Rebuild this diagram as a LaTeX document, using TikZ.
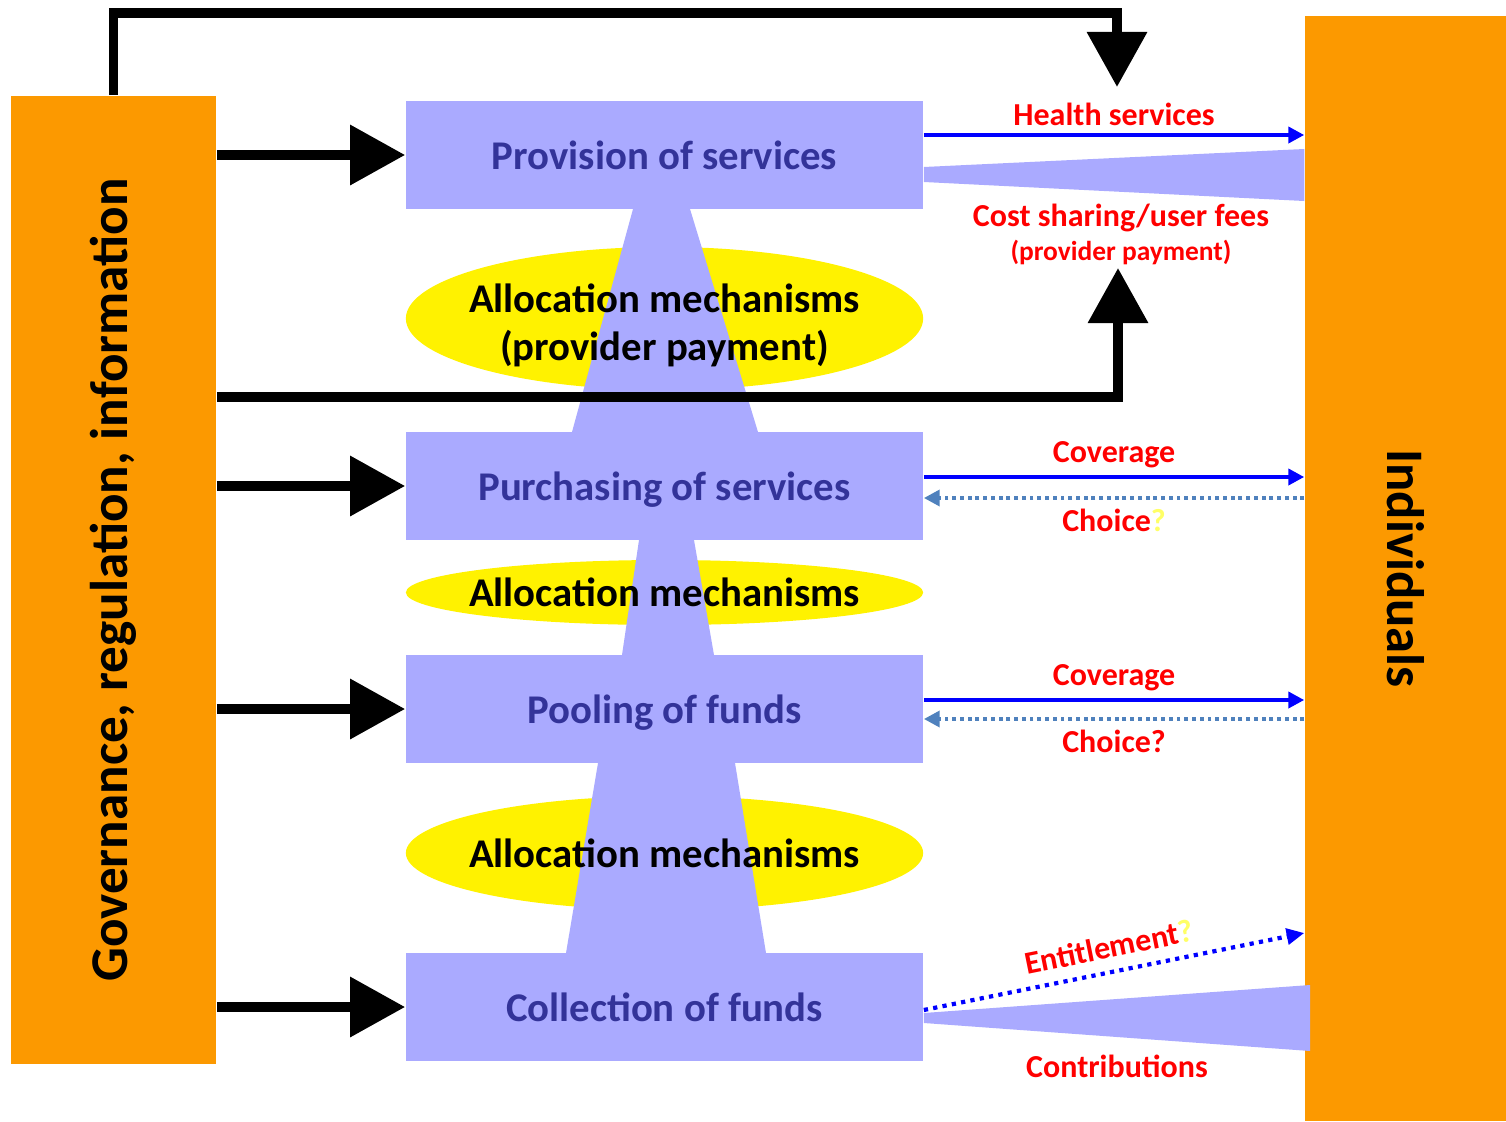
\documentclass[tikz,border=0pt]{standalone}
\usepackage{fontspec}
\setmainfont{Carlito}
\usetikzlibrary{arrows.meta,shapes.geometric}
\definecolor{govorange}{RGB}{252,153,0}
\definecolor{boxblue}{RGB}{170,170,255}
\definecolor{boxtext}{RGB}{51,51,153}
\definecolor{choiceblue}{RGB}{79,129,189}
\definecolor{qyellow}{RGB}{255,255,102}
\tikzset{
  pillar/.style={fill=govorange, inner sep=0pt},
  stage/.style={fill=boxblue, minimum width=5.17cm, minimum height=1.08cm, inner sep=0pt,
    text depth=0pt, text=boxtext, font=\fontsize{11.6}{13}\selectfont\bfseries},
  alloc/.style={ellipse, fill=yellow, minimum width=5.17cm, inner sep=0pt},
  alloctext/.style={font=\fontsize{11.6}{13.6}\selectfont\bfseries, align=center},
  bigarrow/.style={line width=2.8pt, -{Triangle[width=0.58cm,length=0.55cm]}},
  flow/.style={blue, line width=1.2pt, -{Triangle[width=4.5pt,length=4.5pt]}},
  choice/.style={choiceblue, line width=1.1pt, dash pattern=on 1.1pt off 1.1pt,
    -{Triangle[width=4.5pt,length=4.5pt]}},
  entitle/.style={blue, line width=1.2pt, dash pattern=on 1.2pt off 1.5pt,
    -{Triangle[width=4.5pt,length=5pt]}},
  lbl/.style={text=red, font=\fontsize{9.1}{11}\selectfont\bfseries},
  smalllbl/.style={text=red, font=\fontsize{7.8}{9}\selectfont\bfseries},
}
\begin{document}
\begin{tikzpicture}[x=0.01cm, y=-0.01cm]
\useasboundingbox (0,0) rectangle (1506,1121);

% side pillars
\node[pillar, minimum width=2.05cm, minimum height=9.68cm] (gov) at (113.5,580)
  {\rotatebox{90}{\fontsize{15.1}{17}\selectfont\bfseries Governance, regulation, information}};
\node[pillar, minimum width=2.01cm, minimum height=11.05cm] (ind) at (1405.5,568.5)
  {\rotatebox{-90}{\fontsize{15}{17}\selectfont\bfseries Individuals}};

% stages
\node[stage] (prov)  at (664.5,155)  {Provision of services};
\node[stage] (purch) at (664.5,486)  {Purchasing of services};
\node[stage] (pool)  at (664.5,709)  {Pooling of funds};
\node[stage] (coll)  at (664.5,1007) {Collection of funds};

% allocation ellipses
\node[alloc, minimum height=1.43cm] (alloc1) at (664.5,318.5) {};
\node[alloc, minimum height=0.65cm] (alloc2) at (664.5,592.5) {};
\node[alloc, minimum height=1.14cm] (alloc3) at (664.5,853)   {};

% funnels between stages
\fill[boxblue] (633,209) -- (690,209) -- (758,432) -- (572,432) -- cycle;
\fill[boxblue] (639,540) -- (694,540) -- (714,655) -- (622,655) -- cycle;
\fill[boxblue] (598,763) -- (735,763) -- (766,953) -- (566,953) -- cycle;

\node[alloctext] (alloc1t) at ([yshift=-2pt]alloc1) {Allocation mechanisms\\(provider payment)};
\node[alloctext, text depth=0pt] (alloc2t) at (alloc2) {Allocation mechanisms};
\node[alloctext, text depth=0pt] (alloc3t) at (alloc3) {Allocation mechanisms};

% governance arrows
\draw[bigarrow] (gov.east |- prov.west)  -- (prov.west);
\draw[bigarrow] (gov.east |- purch.west) -- (purch.west);
\draw[bigarrow] (gov.east |- pool.west)  -- (pool.west);
\draw[bigarrow] (gov.east |- coll.west)  -- (coll.west);

\coordinate (hsin) at (1117,87);
\coordinate (csin) at (1118,268);
\draw[bigarrow] (gov.north) -- (gov.north |- 0,13) -| (hsin);
\draw[bigarrow] (gov.east |- 0,397) -| (csin);

% provision <-> individuals
\draw[flow] (prov.east |- 0,135) -- (ind.west |- 0,135)
  node[midway, above=-1.4pt, lbl] {Health services};
\fill[boxblue] (prov.east |- 0,167) -- (ind.west |- 0,149) -- (ind.west |- 0,201)
  -- (prov.east |- 0,182) -- cycle;
\node[lbl] (costlbl) at (1121,218) {Cost sharing/user fees};
\node[smalllbl] (provlbl) at (1121,252) {(provider payment)};

% purchasing <-> individuals
\draw[flow] (purch.east |- 0,477) -- (ind.west |- 0,477)
  node[midway, above=-1.4pt, lbl] {Coverage};
\draw[choice] (ind.west |- 0,498) -- (purch.east |- 0,498)
  node[midway, below=-0.8pt, lbl] {Choice{\color{qyellow}?}};

% pooling <-> individuals
\draw[flow] (pool.east |- 0,700) -- (ind.west |- 0,700)
  node[midway, above=-1.4pt, lbl] {Coverage};
\draw[choice] (ind.west |- 0,719) -- (pool.east |- 0,719)
  node[midway, below=-0.8pt, lbl] {Choice?};

% collection <-> individuals
\draw[entitle] (coll.east |- 0,1010) -- (ind.west |- 0,933)
  node[midway, sloped, above, lbl] {Entitlement{\color{qyellow}?}};
\fill[boxblue] (coll.east |- 0,1013) -- (1310,985) -- (1310,1051)
  -- (coll.east |- 0,1023) -- cycle;
\node[lbl] (contrlbl) at (1117,1066) {Contributions};
\end{tikzpicture}
\end{document}
